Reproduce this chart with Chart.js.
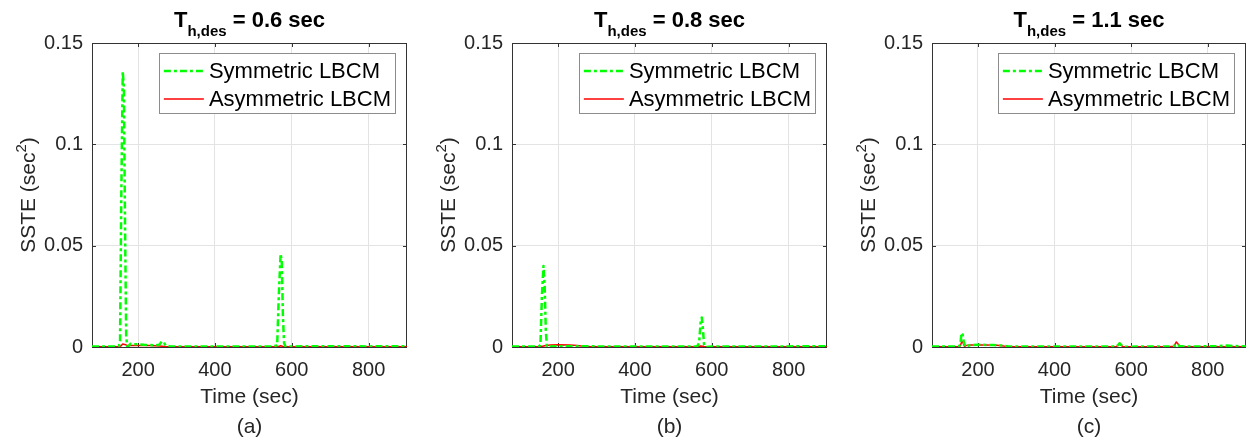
<!DOCTYPE html>
<html>
<head>
<meta charset="utf-8">
<script src="https://cdn.jsdelivr.net/npm/chart.js@4.4.1/dist/chart.umd.min.js"></script>
<style>
  body { margin: 0; background: #fff; width: 1249px; height: 442px; position: relative; overflow: hidden; }
  canvas { position: absolute; top: 0; }
</style>
</head>
<body>
<canvas id="g1" width="416" height="442" style="left:0px"></canvas>
<canvas id="g2" width="416" height="442" style="left:420px"></canvas>
<canvas id="g3" width="409" height="442" style="left:840px"></canvas>
<script>
// tick labels and names
const xTicks = [200, 400, 600, 800];
const xTickLabels = ['200', '400', '600', '800'];
const yTicks = [0, 0.05, 0.1, 0.15];
const yTickLabels = ['0', '0.05', '0.1', '0.15'];
const seriesNames = ['Symmetric LBCM', 'Asymmetric LBCM'];
const titleValues = ['0.6 sec', '0.8 sec', '1.1 sec'];
const panelTags = ['(a)', '(b)', '(c)'];

// (a) Th,des = 0.6 sec
const timeSymA = [80, 110, 140, 150, 153, 156, 160, 163, 166, 169, 172, 176, 180, 190, 200, 215, 230, 245, 255, 262, 267, 272, 285, 320, 400, 480, 550, 562, 566, 571, 574, 577, 580, 584, 595, 650, 720, 800, 860, 900];
const symA = [0.0003, 0.0002, 0.0003, 0.0004, 0.003, 0.07, 0.136, 0.128, 0.06, 0.005, 0, 0.0006, 0.0016, 0.0013, 0.0014, 0.0011, 0.0010, 0.0008, 0.0011, 0.0028, 0.0022, 0.0007, 0.0003, 0.0002, 0.0002, 0.0002, 0.0003, 0.0008, 0.024, 0.046, 0.042, 0.015, 0.002, 0, 0.0002, 0.0004, 0.0004, 0.0003, 0.0004, 0.0003];
const timeAsymA = [80, 150, 156, 160, 165, 172, 200, 230, 255, 270, 300, 450, 565, 571, 577, 590, 900];
const asymA = [0.0001, 0.0001, 0.0006, 0.0015, 0.0012, 0.0008, 0.0008, 0.0007, 0.0005, 0.0002, 0.0001, 0.0001, 0.0001, 0.0006, 0.0003, 0.0001, 0.0001];

// (b) Th,des = 0.8 sec
const timeSymB = [80, 150, 154, 158, 162, 165, 168, 171, 176, 200, 250, 300, 400, 500, 562, 567, 571, 574, 577, 580, 585, 600, 700, 800, 900];
const symB = [0.0003, 0.0003, 0.001, 0.026, 0.040, 0.03, 0.008, 0, 0.0003, 0.0004, 0.0004, 0.0003, 0.0003, 0.0003, 0.0003, 0.002, 0.012, 0.0146, 0.009, 0.001, 0, 0.0003, 0.0003, 0.0003, 0.0004];
const timeAsymB = [80, 155, 165, 180, 200, 230, 250, 270, 300, 560, 572, 580, 600, 900];
const asymB = [0.0001, 0.0001, 0.0006, 0.0010, 0.0011, 0.0010, 0.0007, 0.0003, 0.0001, 0.0001, 0.0005, 0.0002, 0.0001, 0.0001];

// (c) Th,des = 1.1 sec
const timeSymC = [80, 150, 154, 157, 160, 163, 167, 172, 180, 200, 240, 260, 280, 350, 450, 560, 566, 570, 574, 582, 620, 700, 715, 720, 726, 740, 820, 850, 880, 900];
const symC = [0.0003, 0.0003, 0.0012, 0.0070, 0.0062, 0.0025, 0.0001, 0.0005, 0.0010, 0.0011, 0.0010, 0.0008, 0.0003, 0.0002, 0.0003, 0.0003, 0.0009, 0.0018, 0.0010, 0.0001, 0.0002, 0.0003, 0.0006, 0.0014, 0.0005, 0.0002, 0.0004, 0.0007, 0.0004, 0.0003];
const timeAsymC = [80, 150, 154, 158, 161, 165, 170, 180, 220, 250, 275, 300, 560, 566, 570, 574, 580, 700, 712, 718, 722, 728, 740, 900];
const asymC = [0.0001, 0.0001, 0.0006, 0.0029, 0.0020, 0.0003, 0.0008, 0.0010, 0.0010, 0.0009, 0.0003, 0.0001, 0.0001, 0.0008, 0.0020, 0.0008, 0.0001, 0.0001, 0.0004, 0.0025, 0.0016, 0.0002, 0.0001, 0.0001];

const FONT = "'Liberation Sans', Arial, sans-serif";
const AXIS = '#333333';
const GREEN = '#00ff00';
const RED = '#ff0000';
const symDash = [7, 3, 3, 3];

function pts(t, v) {
  return t.map((x, i) => ({ x: x, y: v[i] }));
}

// box, inward ticks, y label with superscript, title with subscript, legend
const decoPlugin = {
  id: 'deco',
  beforeDatasetsDraw(chart) {
    const { ctx, chartArea: a } = chart;
    const sx = chart.scales.x, sy = chart.scales.y;
    ctx.save();
    ctx.strokeStyle = AXIS;
    ctx.lineWidth = 1;
    ctx.strokeRect(a.left + 0.5, a.top + 0.5, a.right - a.left - 1, a.bottom - a.top);
    ctx.beginPath();
    xTicks.forEach(v => {
      const px = Math.round(sx.getPixelForValue(v)) + 0.5;
      ctx.moveTo(px, a.bottom); ctx.lineTo(px, a.bottom - 4);
      ctx.moveTo(px, a.top); ctx.lineTo(px, a.top + 4);
    });
    yTicks.forEach(v => {
      const py = Math.round(sy.getPixelForValue(v)) + 0.5;
      ctx.moveTo(a.left, py); ctx.lineTo(a.left + 4, py);
      ctx.moveTo(a.right, py); ctx.lineTo(a.right - 4, py);
    });
    ctx.stroke();
    ctx.restore();
  },
  afterDraw(chart) {
    const { ctx, chartArea: a } = chart;
    const o = chart.options.plugins.deco;
    ctx.save();

    // y axis label
    const lab = '21px ' + FONT, sup = '15px ' + FONT;
    ctx.font = lab;
    const w1 = ctx.measureText('SSTE (sec').width, w3 = ctx.measureText(')').width;
    ctx.font = sup;
    const w2 = ctx.measureText('2').width;
    ctx.save();
    ctx.translate(35, (a.top + a.bottom) / 2);
    ctx.rotate(-Math.PI / 2);
    ctx.fillStyle = '#262626';
    ctx.textBaseline = 'alphabetic';
    ctx.textAlign = 'left';
    let lx = -(w1 + w2 + w3) / 2;
    ctx.font = lab; ctx.fillText('SSTE (sec', lx, 0); lx += w1;
    ctx.font = sup; ctx.fillText('2', lx, -9); lx += w2;
    ctx.font = lab; ctx.fillText(')', lx, 0);
    ctx.restore();

    // title
    const big = 'bold 22px ' + FONT, small = 'bold 15px ' + FONT;
    const rest = ' = ' + o.value;
    ctx.font = big;
    const wT = ctx.measureText('T').width, wR = ctx.measureText(rest).width;
    ctx.font = small;
    const wS = ctx.measureText('h,des').width;
    let x = (a.left + a.right) / 2 - (wT + wS + wR) / 2;
    ctx.fillStyle = '#000';
    ctx.textBaseline = 'alphabetic';
    ctx.textAlign = 'left';
    ctx.font = big; ctx.fillText('T', x, 27); x += wT;
    ctx.font = small; ctx.fillText('h,des', x, 36); x += wS;
    ctx.font = big; ctx.fillText(rest, x, 27);

    // legend
    ctx.font = '22px ' + FONT;
    const tw = Math.max(...seriesNames.map(s => ctx.measureText(s).width));
    const bw = 5 + 40 + 5 + tw + 4;
    const bx = a.right - 12 - bw, by = a.top + 10, bh = 60;
    ctx.fillStyle = '#fff';
    ctx.fillRect(bx, by, bw, bh);
    ctx.strokeStyle = '#8c8c8c';
    ctx.lineWidth = 1;
    ctx.strokeRect(Math.round(bx) + 0.5, by + 0.5, Math.round(bw), bh);
    const rows = [
      { y: by + 18, color: GREEN, width: 2.5, dash: symDash },
      { y: by + 46, color: RED, width: 1.5, dash: [] }
    ];
    rows.forEach((r, i) => {
      ctx.beginPath();
      ctx.setLineDash(r.dash);
      ctx.strokeStyle = r.color;
      ctx.lineWidth = r.width;
      ctx.moveTo(bx + 5, r.y); ctx.lineTo(bx + 45, r.y);
      ctx.stroke();
      ctx.setLineDash([]);
      ctx.fillStyle = '#000';
      ctx.textBaseline = 'middle';
      ctx.fillText(seriesNames[i], bx + 50, r.y + 1);
    });
    ctx.restore();
  }
};

function makeChart(id, k, symT, symV, asymT, asymV, padRight) {
  return new Chart(document.getElementById(id), {
    type: 'line',
    data: {
      datasets: [
        { label: seriesNames[0], data: pts(symT, symV), borderColor: GREEN, borderWidth: 2.5, borderDash: symDash, borderJoinStyle: 'round', pointRadius: 0, tension: 0, order: 1 },
        { label: seriesNames[1], data: pts(asymT, asymV), borderColor: RED, borderWidth: 1.5, borderJoinStyle: 'round', pointRadius: 0, tension: 0, order: 2 }
      ]
    },
    options: {
      responsive: false,
      animation: false,
      devicePixelRatio: 1,
      layout: { padding: { top: 43, right: padRight, left: 0, bottom: 0 } },
      plugins: {
        legend: { display: false },
        tooltip: { enabled: false },
        deco: { value: titleValues[k] }
      },
      scales: {
        x: {
          type: 'linear', min: 80, max: 900,
          afterBuildTicks: s => { s.ticks = xTicks.map(v => ({ value: v })); },
          afterFit: s => { s.height = 95; },
          ticks: { color: '#262626', font: { family: FONT, size: 20 }, padding: 11, maxRotation: 0, callback: (v, i) => xTickLabels[i] },
          grid: { color: '#e3e3e3', drawTicks: false },
          border: { display: false },
          title: { display: true, text: ['Time (sec)', panelTags[k]], color: '#262626', font: { family: FONT, size: 21, lineHeight: 1.43 }, padding: { top: 0, bottom: 0 } }
        },
        y: {
          min: 0, max: 0.15,
          afterBuildTicks: s => { s.ticks = yTicks.map(v => ({ value: v })); },
          afterFit: s => { s.width = 92; },
          ticks: { color: '#262626', font: { family: FONT, size: 20 }, padding: 9, callback: (v, i) => yTickLabels[i] },
          grid: { color: '#e3e3e3', drawTicks: false },
          border: { display: false },
          title: { display: false }
        }
      }
    },
    plugins: [decoPlugin]
  });
}

makeChart('g1', 0, timeSymA, symA, timeAsymA, asymA, 9);
makeChart('g2', 1, timeSymB, symB, timeAsymB, asymB, 9);
makeChart('g3', 2, timeSymC, symC, timeAsymC, asymC, 3);
</script>
</body>
</html>
